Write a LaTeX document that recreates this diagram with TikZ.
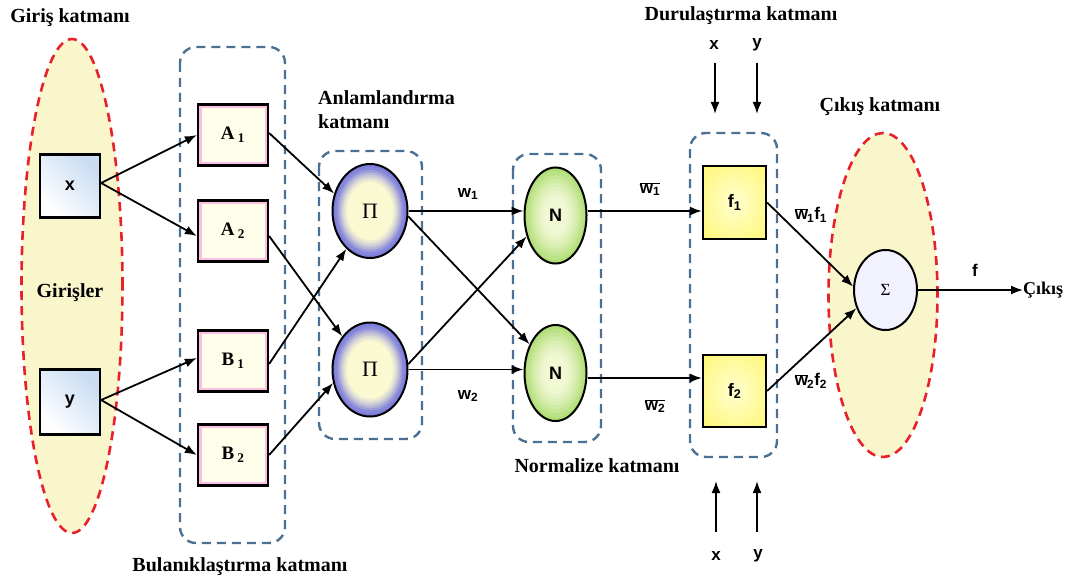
\documentclass[tikz,border=0pt]{standalone}
\usepackage{fontspec}
\setmainfont{Liberation Serif}
\setsansfont{Liberation Sans}
\usetikzlibrary{arrows.meta,shapes.geometric,calc}
\definecolor{dashblue}{HTML}{4A7093}
\definecolor{dashred}{HTML}{E8202A}
\definecolor{paleyel}{HTML}{FAF6CC}
\definecolor{piin}{HTML}{FBF9D2}
\definecolor{piout}{HTML}{7E7EDC}
\definecolor{nin}{HTML}{F1F8D4}
\definecolor{nout}{HTML}{B2DE78}
\definecolor{fin}{HTML}{FFFFD0}
\definecolor{fout}{HTML}{FFF56A}
\definecolor{inblue}{HTML}{C9DCF3}
\begin{document}
\begin{tikzpicture}[x=1pt,y=-1pt,
  shadefill/.style n args={3}{path picture={\shade[inner color=#1, outer color=#2]
     ($(path picture bounding box.center)!#3!(path picture bounding box.south west)$) rectangle
     ($(path picture bounding box.center)!#3!(path picture bounding box.north east)$);}},
  piring/.style n args={4}{path picture={\foreach \s/\p in {1.05/100,0.93/92,0.87/75,0.82/55,0.77/38,0.72/22,0.67/10,0.62/0}
     {\fill[#2!\p!#1] (path picture bounding box.center) ellipse [x radius={\s*#3}, y radius={\s*#4}];}}},
  nring/.style n args={4}{path picture={\foreach \s/\p in {1.05/100,0.92/85,0.84/68,0.76/52,0.68/38,0.6/25,0.52/14,0.44/5,0.36/0}
     {\fill[#2!\p!#1] (path picture bounding box.center) ellipse [x radius={\s*#3}, y radius={\s*#4}];}}},
  layerlbl/.style={font=\fontsize{20}{24}\selectfont\bfseries, inner sep=0pt},
  lbl/.style={font=\sffamily\bfseries\fontsize{17}{19}\selectfont, inner sep=0pt},
  arr/.style={-{Latex[length=12pt,width=9pt]}, line width=1.8pt, black},
  layerbox/.style={draw=dashblue, line width=2.4pt, dash pattern=on 9pt off 6pt, rounded corners=16pt},
  redell/.style={draw=dashred, line width=2.6pt, dash pattern=on 9pt off 6pt, fill=paleyel},
  inbox/.style={draw, line width=2.2pt, minimum width=60pt, minimum height=63pt, inner sep=0pt,
    shading=axis, left color=inblue, right color=white, shading angle=-45, font=\sffamily\bfseries\fontsize{18}{20}\selectfont},
  mfbox/.style={draw, line width=2.2pt, fill=yellow!8, minimum width=70pt, minimum height=61pt, inner sep=0pt,
    font=\bfseries\fontsize{19}{21}\selectfont,
    path picture={\draw[color=magenta!25, line width=7pt] (path picture bounding box.south west) rectangle (path picture bounding box.north east);}},
  pinode/.style={ellipse, draw, line width=2pt, minimum width=75pt, minimum height=94pt, inner sep=0pt,
    piring={piin}{piout}{37.5pt}{47pt}, font=\fontsize{22}{24}\selectfont},
  nnode/.style={ellipse, draw, line width=2pt, minimum width=62pt, minimum height=96pt, inner sep=0pt,
    nring={nin}{nout}{31pt}{48pt}, font=\sffamily\bfseries\fontsize{18}{20}\selectfont},
  fbox/.style={draw, line width=2.2pt, minimum width=63pt, minimum height=73pt, inner sep=0pt,
    shadefill={fin}{fout}{1.6}, font=\sffamily\bfseries\fontsize{18}{20}\selectfont},
  snode/.style={ellipse, draw, line width=2pt, minimum width=63pt, minimum height=80pt, inner sep=0pt,
    fill=blue!5, font=\fontsize{17}{19}\selectfont}
]
\useasboundingbox (0,0) rectangle (1075,583);

% layer backgrounds
\node[redell, ellipse, minimum width=101pt, minimum height=494pt] (inell) at (72,286) {};
\node[redell, ellipse, minimum width=109pt, minimum height=324pt] (outell) at (883,295) {};
\draw[layerbox] (180,47) rectangle (285,543);
\draw[layerbox] (319,151) rectangle (422,439);
\draw[layerbox] (513,154) rectangle (601,442);
\draw[layerbox] (690,133) rectangle (777,457);

% layer labels
\node[layerlbl] (lgiris) at (70,18) {Giriş katmanı};
\node[layerlbl] (lgirisler) at (70,293) {Girişler};
\node[layerlbl] (lbulan) at (240,567) {Bulanıklaştırma katmanı};
\node[layerlbl, align=left, anchor=west] (lanlam) at (318,110) {Anlamlandırma\\katmanı};
\node[layerlbl] (lnorm) at (597,466) {Normalize katmanı};
\node[layerlbl] (ldurul) at (741,16) {Durulaştırma katmanı};
\node[layerlbl] (lcikisk) at (880,107) {Çıkış katmanı};

% nodes
\node[inbox] (xin) at (70,186) {x};
\node[inbox, minimum height=65pt] (yin) at (70,402) {y};
\node[mfbox] (A1) at (233,135) {A\,\textsubscript{1}};
\node[mfbox] (A2) at (233,231) {A\,\textsubscript{2}};
\node[mfbox] (B1) at (233,361) {B\,\textsubscript{1}};
\node[mfbox] (B2) at (233,455) {B\,\textsubscript{2}};
\node[pinode] (P1) at (370,211) {Π};
\node[pinode] (P2) at (370,369.5) {Π};
\node[nnode] (N1) at (555.5,215.5) {N};
\node[nnode] (N2) at (555.5,373) {N};
\node[fbox] (f1) at (734.5,202.5) {f\textsubscript{1}};
\node[fbox, minimum height=72pt] (f2) at (734.5,391) {f\textsubscript{2}};
\node[snode] (S) at (885.5,290) {Σ};
\node[layerlbl, anchor=west, font=\fontsize{18}{20}\selectfont\bfseries] (out) at (1023,290) {Çıkış};

% connectors
\draw[arr] ([yshift=3pt]xin.east) -- (A1.west);
\draw[arr] ([yshift=3pt]xin.east) -- ([yshift=-5pt]A2.west);
\draw[arr] ([yshift=2pt]yin.east) -- ([yshift=3pt]B1.west);
\draw[arr] ([yshift=2pt]yin.east) -- (B2.west);
\draw[arr] ([yshift=2pt]A1.east) -- (P1.154);
\draw[arr] ([yshift=-5pt]A2.east) -- (P2.130);
\draw[arr] ([yshift=-3pt]B1.east) -- (P1.238);
\draw[arr] (B2.east) -- (P2.200);
\draw[arr] (P1.east) -- (P1.east -| N1.west);
\draw[arr] (P1.-8) -- (N2.132);
\draw[arr] (P2.8) -- (N1.216);
\draw[arr] (P2.east) -- (P2.east -| N2.west);
\draw[arr] (N1.east |- P1.east) -- (f1.west |- P1.east);
\draw[arr] ([yshift=-5pt]N2.east) -- ([yshift=-5pt]N2.east -| f2.west);
\draw[arr] (f1.east) -- (S.174);
\draw[arr] (f2.east) -- (S.212);
\draw[arr] (S.east) -- (out.west);

% edge labels
\node[lbl] (w1) at (468,194) {w\textsubscript{1}};
\node[lbl] (w2) at (468,396) {w\textsubscript{2}};
\node[lbl] (nw1) at (650,189) {$\overline{\hbox{w\textsubscript{1}}}$};
\node[lbl] (nw2) at (655,406) {$\overline{\hbox{w\textsubscript{2}}}$};
\node[lbl] (wf1) at (811,215) {$\overline{\hbox{w}}$\kern-1pt\textsubscript{1}f\textsubscript{1}};
\node[lbl] (wf2) at (811,381) {$\overline{\hbox{w}}$\kern-1pt\textsubscript{2}f\textsubscript{2}};
\node[lbl] (fl) at (975,270) {f};

% consequent inputs
\node[lbl] (tx) at (714,45) {x};
\node[lbl] (ty) at (757,45) {y};
\coordinate (txs) at (715,63); \coordinate (txe) at (715,114);
\coordinate (tys) at (757,63); \coordinate (tye) at (757,114);
\draw[arr] (txs) -- (txe);
\draw[arr] (tys) -- (tye);
\node[lbl] (bx) at (716,556) {x};
\node[lbl] (by) at (758,556) {y};
\coordinate (bxs) at (716,532); \coordinate (bxe) at (716,481);
\coordinate (bys) at (757,532); \coordinate (bye) at (757,481);
\draw[arr] (bxs) -- (bxe);
\draw[arr] (bys) -- (bye);
\end{tikzpicture}
\end{document}
